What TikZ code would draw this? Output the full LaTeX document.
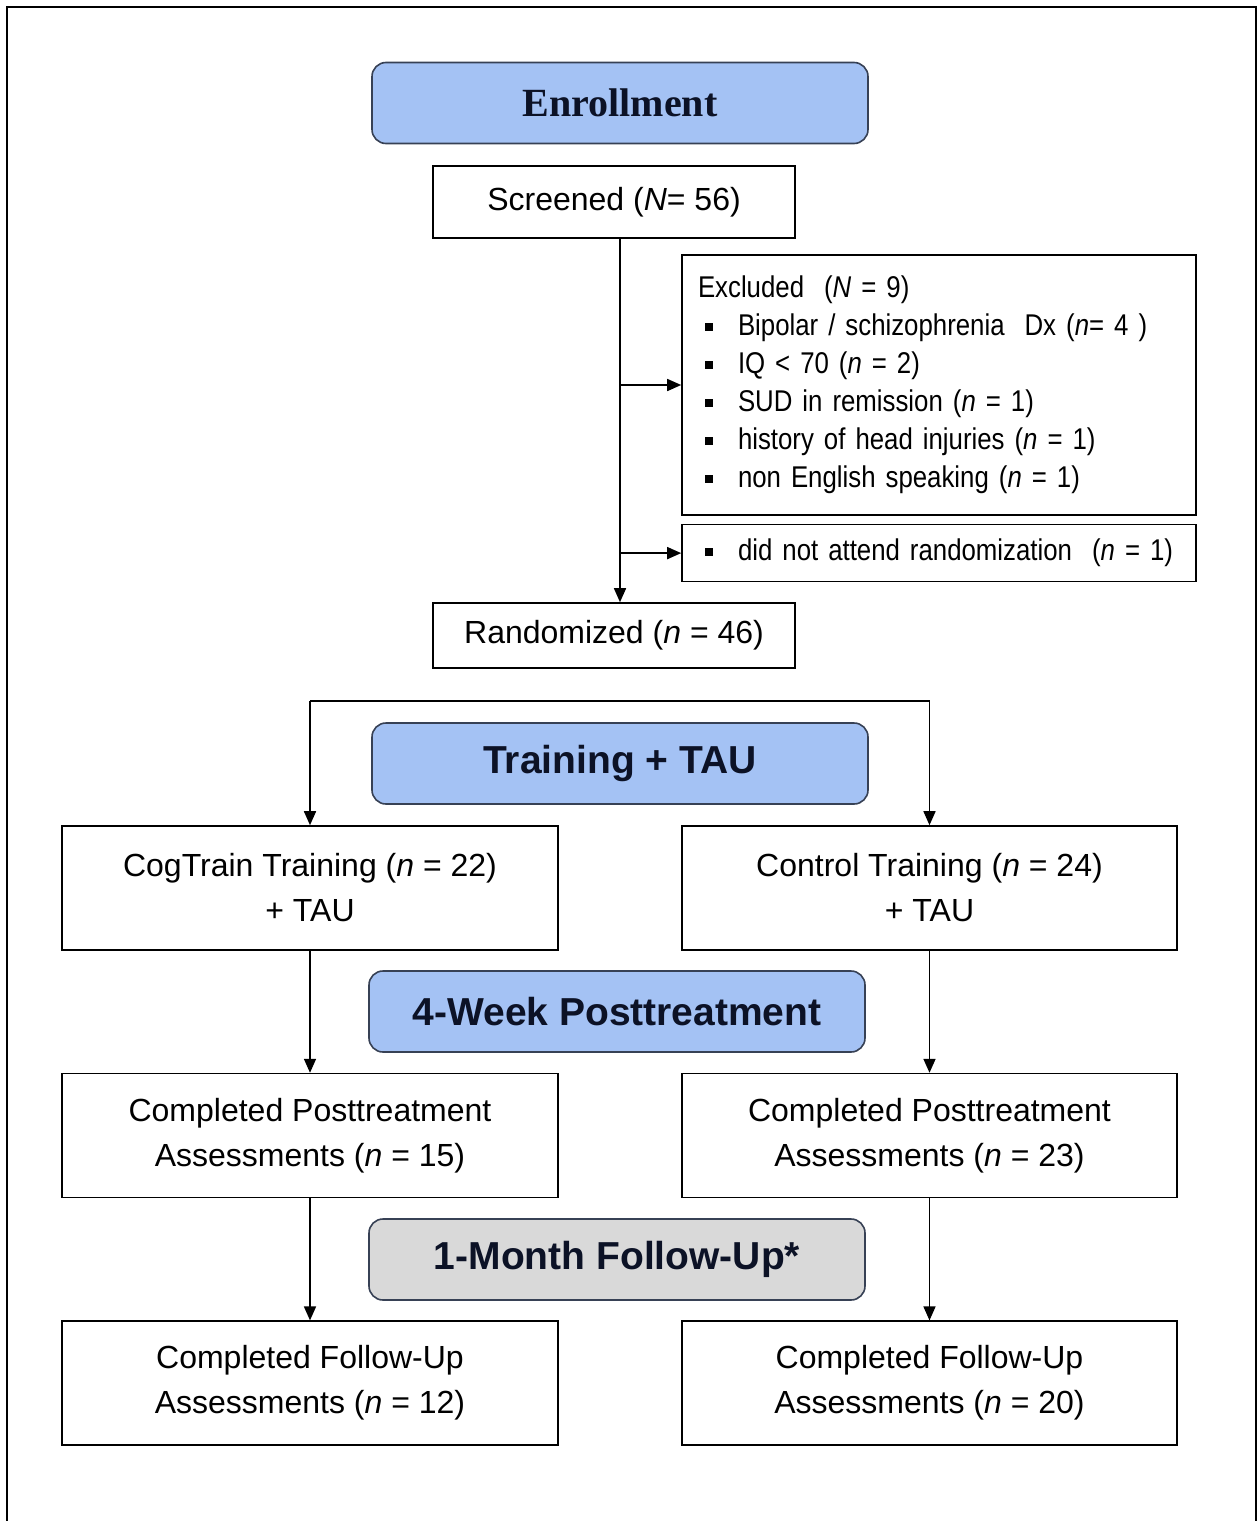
\documentclass[tikz,border=0pt]{standalone}
\usepackage{fontspec}
\setmainfont{Liberation Sans}
\newfontfamily\headserif{Liberation Serif}
\newfontfamily\narrowsans[FakeStretch=0.86]{Liberation Sans}
\usepackage{xcolor}
\usepackage{tikz}
\usetikzlibrary{positioning,arrows.meta}

\definecolor{headblue}{RGB}{164,194,244}
\definecolor{headgray}{RGB}{217,217,217}
\definecolor{headline}{RGB}{55,65,85}
\definecolor{headtext}{RGB}{12,18,38}
\newcommand{\sqbullet}{\makebox[40pt][l]{\hspace{7pt}\raisebox{5pt}{\rule{8pt}{8pt}}}}

\begin{document}
\begin{tikzpicture}[x=1pt,y=-1pt,
                headnode/.style={rectangle, rounded corners=14pt, draw=headline, fill=headblue, line width=1.6pt, minimum width=496pt, minimum height=81pt, text=headtext, font=\fontsize{39}{45}\selectfont\bfseries},
                boxnode/.style={rectangle, draw=black, line width=1.6pt, minimum width=496pt, minimum height=124pt, align=center, font=\fontsize{32}{45}\selectfont},
                listnode/.style={rectangle, draw=black, line width=1.6pt, minimum width=514pt, text width=482pt, inner xsep=16pt, align=left, font=\narrowsans\fontsize{30}{38}\selectfont},
                arrow/.style={line width=1.6pt,->,>={Triangle[length=14pt,width=12pt]}}
                ]
                \useasboundingbox (0,0) rectangle (1259,1521);
                \draw[line width=2pt] (7,1521) -- (7,7) -- (1256,7) -- (1256,1521);

                % enrollment
                \node[headnode, font=\headserif\fontsize{40}{45}\selectfont\bfseries] (enroll) at (620,103) {Enrollment};
                \node[boxnode, minimum width=362pt, minimum height=72pt] (screened) at (614,202) {Screened (\textit{N}= 56)};
                \node[listnode, minimum height=260pt] (excluded) at (939,385) {Excluded\ \ (\textit{N} = 9)\\
                    \sqbullet Bipolar / schizophrenia\ \ Dx (\textit{n}= 4 )\\
                    \sqbullet IQ < 70 (\textit{n} = 2)\\
                    \sqbullet SUD in remission (\textit{n} = 1)\\
                    \sqbullet history of head injuries (\textit{n} = 1)\\
                    \sqbullet non English speaking (\textit{n} = 1)};
                \node[listnode, minimum height=57pt] (noattend) [below=8pt of excluded] {\mbox{\sqbullet did not attend randomization\ \ (\textit{n} = 1)}};
                \node[boxnode, minimum width=362pt, minimum height=65pt] (randomized) at (614,635.5) {Randomized (\textit{n} = 46)};

                % allocation
                \node[headnode] (training) at (620,763.5) {Training + TAU};
                \node[boxnode] (cogtrain) at (310,888) {CogTrain Training (\textit{n} = 22)\\+ TAU};
                \node[boxnode, minimum width=495pt] (control) at (929.5,888) {Control Training (\textit{n} = 24)\\+ TAU};

                % posttreatment
                \node[headnode] (posttx) at (617,1011.5) {4-Week Posttreatment};
                \node[boxnode] (cogpost) [below=122pt of cogtrain] {Completed Posttreatment\\Assessments (\textit{n} = 15)};
                \node[boxnode, minimum width=495pt] (ctlpost) [below=122pt of control] {Completed Posttreatment\\Assessments (\textit{n} = 23)};

                % follow-up
                \node[headnode, fill=headgray] (followup) at (617,1259.5) {1-Month Follow-Up*};
                \node[boxnode] (cogfu) [below=122pt of cogpost] {Completed Follow-Up\\Assessments (\textit{n} = 12)};
                \node[boxnode, minimum width=495pt] (ctlfu) [below=122pt of ctlpost] {Completed Follow-Up\\Assessments (\textit{n} = 20)};

                \coordinate (trunk) at (620,238);
                \coordinate (splitL) at (cogtrain.north |- 0,701);
                \coordinate (splitR) at (control.north |- 0,701);

                \draw[arrow] (trunk) -- (trunk |- randomized.north);
                \draw[arrow] (trunk |- excluded.west) -- (excluded.west);
                \draw[arrow] (trunk |- noattend.west) -- (noattend.west);
                \draw[line width=1.6pt] (splitL) -- (splitR);
                \draw[arrow] (splitL) -- (cogtrain);
                \draw[arrow] (splitR) -- (control);
                \draw[arrow] (cogtrain) -- (cogpost);
                \draw[arrow] (control) -- (ctlpost);
                \draw[arrow] (cogpost) -- (cogfu);
                \draw[arrow] (ctlpost) -- (ctlfu);
            \end{tikzpicture}
\end{document}
